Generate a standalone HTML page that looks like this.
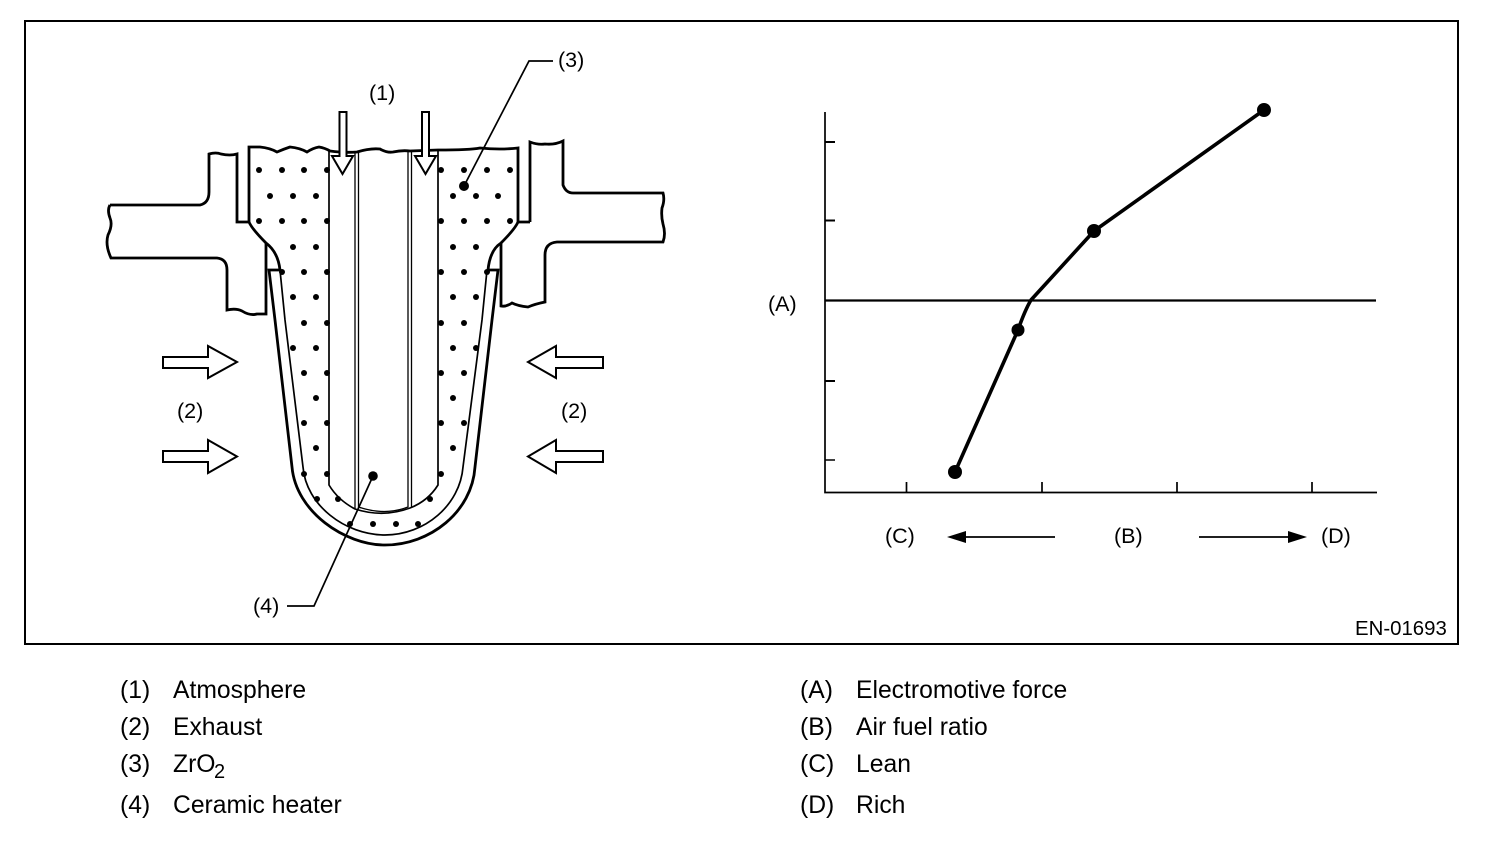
<!DOCTYPE html>
<html><head><meta charset="utf-8"><style>
html,body{margin:0;padding:0;background:#fff;width:1504px;height:842px;overflow:hidden}
svg{display:block}
text{font-family:"Liberation Sans",Arial,sans-serif;fill:#000}
.l{font-size:21.5px}.e{font-size:20.4px}.g{font-size:24.7px}
.t{fill:none;stroke:#000;stroke-width:2.8}
.n{fill:none;stroke:#000;stroke-width:1.7}
.d{fill:none;stroke:#000;stroke-width:1.3}
.a{fill:#fff;stroke:#000;stroke-width:2}
</style></head><body>
<svg width="1504" height="842" viewBox="0 0 1504 842" xmlns="http://www.w3.org/2000/svg">
<rect x="25" y="21" width="1433" height="623" fill="none" stroke="#000" stroke-width="2"/>

<!-- dots -->
<g fill="#000">
<circle cx="259" cy="170" r="3"/><circle cx="282" cy="170" r="3"/><circle cx="304" cy="170" r="3"/><circle cx="327" cy="170" r="3"/>
<circle cx="441" cy="170" r="3"/><circle cx="464" cy="170" r="3"/><circle cx="487" cy="170" r="3"/><circle cx="510" cy="170" r="3"/>
<circle cx="270" cy="196" r="3"/><circle cx="293" cy="196" r="3"/><circle cx="316" cy="196" r="3"/>
<circle cx="453" cy="196" r="3"/><circle cx="476" cy="196" r="3"/><circle cx="498" cy="196" r="3"/>
<circle cx="259" cy="221" r="3"/><circle cx="282" cy="221" r="3"/><circle cx="304" cy="221" r="3"/><circle cx="327" cy="221" r="3"/>
<circle cx="441" cy="221" r="3"/><circle cx="464" cy="221" r="3"/><circle cx="487" cy="221" r="3"/><circle cx="510" cy="221" r="3"/>
<circle cx="293" cy="247" r="3"/><circle cx="316" cy="247" r="3"/><circle cx="453" cy="247" r="3"/><circle cx="476" cy="247" r="3"/>
<circle cx="282" cy="272" r="3"/><circle cx="304" cy="272" r="3"/><circle cx="327" cy="272" r="3"/>
<circle cx="441" cy="272" r="3"/><circle cx="464" cy="272" r="3"/><circle cx="487" cy="272" r="3"/>
<circle cx="293" cy="297" r="3"/><circle cx="316" cy="297" r="3"/><circle cx="453" cy="297" r="3"/><circle cx="476" cy="297" r="3"/>
<circle cx="304" cy="323" r="3"/><circle cx="327" cy="323" r="3"/><circle cx="441" cy="323" r="3"/><circle cx="464" cy="323" r="3"/>
<circle cx="293" cy="348" r="3"/><circle cx="316" cy="348" r="3"/><circle cx="453" cy="348" r="3"/><circle cx="476" cy="348" r="3"/>
<circle cx="304" cy="373" r="3"/><circle cx="327" cy="373" r="3"/><circle cx="441" cy="373" r="3"/><circle cx="464" cy="373" r="3"/>
<circle cx="316" cy="398" r="3"/><circle cx="453" cy="398" r="3"/>
<circle cx="304" cy="423" r="3"/><circle cx="327" cy="423" r="3"/><circle cx="441" cy="423" r="3"/><circle cx="464" cy="423" r="3"/>
<circle cx="316" cy="448" r="3"/><circle cx="453" cy="448" r="3"/>
<circle cx="304" cy="474" r="3"/><circle cx="327" cy="474" r="3"/><circle cx="441" cy="474" r="3"/>
<circle cx="317" cy="499" r="3"/><circle cx="338" cy="499" r="3"/><circle cx="430" cy="499" r="3"/>
<circle cx="350" cy="524" r="3"/><circle cx="373" cy="524" r="3"/><circle cx="396" cy="524" r="3"/><circle cx="418" cy="524" r="3"/>
</g>

<!-- housing -->
<path class="t" d="M249,222 L249,147 L260,147 Q270,148 277,152 Q284,149 290,147 Q300,148 307,152 Q313,148 319,147 Q325,148 330,151 Q345,153 357,152 Q370,148 380,149 Q387,153 393,152 Q402,150 410,151 L438,150 Q470,150 480,148 Q500,150 518,148 L518,222"/>
<path class="t" d="M110,205 L200,205 Q209,203 209,192 L209,154 Q216,152 221,154 Q230,156 237,154 L237,222 L249,222 Q252,229 266,243 Q278,252 280,270"/>
<path class="t" d="M110,205 Q107,210 110,218 Q113,225 108,235 Q105,245 111,258 L217,258 Q227,259 227,270 L227,310 Q236,308 242,311 Q250,316 257,314 L266,314 L266,243"/>
<path class="t" d="M530,222 L530,142 Q538,145 545,144 Q555,145 563,141 L563,185 Q566,193 573,193 L663,193 Q665,200 662,208 Q661,216 663,224 Q666,234 663,242 L557,242 Q545,243 545,255 L545,302 Q535,304 528,307 Q518,306 512,303 Q506,307 501,306 L501,243"/>
<path class="t" d="M518,222 L530,222 M518,222 Q515,229 501,243 Q490,250 488,270"/>

<!-- ceramic sleeve -->
<path class="n" d="M280,270 L285,320 L303,467 C306,505 345,535 385,535 C425,535 460,505 463,467 L482,320 L487,270"/>
<path class="t" d="M280,270 L269,270 L275,320 L292,467 C296,512 345,545 385,545 C430,545 472,512 475,467 L492,320 L498,270 L487,270"/>

<!-- tube -->
<path class="n" d="M329,151 L329,485 Q338,500 355,509 Q383,518 410,508 Q428,501 438,485 L438,151"/>
<path class="d" d="M355,152 L355,509 M358.500,152 L358.500,507 Q385,516 408,507 L408,151 M411.500,151 L411.500,508"/>

<!-- down arrows -->
<path class="a" d="M339.500,112 L346.500,112 L346.500,156 L353,156 L342.500,174 L332,156 L339.500,156Z"/>
<path class="a" d="M422,112 L429,112 L429,156 L436,156 L425.500,174 L415,156 L422,156Z"/>

<!-- exhaust arrows -->
<path class="a" d="M163,357 L208,357 L208,346 L237,362 L208,378 L208,368 L163,368Z"/>
<path class="a" d="M163,451 L208,451 L208,440 L237,456.500 L208,473 L208,462 L163,462Z"/>
<path class="a" d="M603,357 L556,357 L556,346 L528,362 L556,378 L556,368 L603,368Z"/>
<path class="a" d="M603,451 L556,451 L556,440 L528,456.500 L556,473 L556,462 L603,462Z"/>

<!-- leaders -->
<path class="n" d="M553,61 L529,61 L464,186"/>
<circle cx="464" cy="186" r="5"/>
<path class="n" d="M287,606 L314,606 L373,476"/>
<circle cx="373" cy="476" r="4.800"/>

<!-- chart -->
<path d="M825,112 L825,492.500 L1377,492.500" fill="none" stroke="#000" stroke-width="1.700"/>
<path d="M825,300.500 L1376,300.500" fill="none" stroke="#000" stroke-width="2.200"/>
<path d="M825,142 H835 M825,220.500 H835 M825,381 H835" fill="none" stroke="#000" stroke-width="2"/>
<path d="M825,460 H835" fill="none" stroke="#000" stroke-width="1.500"/>
<path d="M906.500,482 V492 M1042,482 V492 M1177,482 V492 M1312,482 V492" fill="none" stroke="#000" stroke-width="1.700"/>
<path d="M955,472 L1018,330 Q1025,310 1031,300 L1094,231 L1264,110" fill="none" stroke="#000" stroke-width="3.600"/>
<circle cx="955" cy="472" r="7"/><circle cx="1018" cy="330" r="6.500"/><circle cx="1094" cy="231" r="7"/><circle cx="1264" cy="110" r="7"/>
<path d="M966,537 H1055 M1199,537 H1292" fill="none" stroke="#000" stroke-width="1.800"/>
<path d="M947,537 L966,531 L966,543Z"/>
<path d="M1307,537 L1288,531 L1288,543Z"/>

<!-- labels -->
<text class="l" x="369" y="100">(1)</text>
<text class="l" x="558" y="67">(3)</text>
<text class="l" x="177" y="418">(2)</text>
<text class="l" x="561" y="418">(2)</text>
<text class="l" x="253" y="613">(4)</text>
<text class="l" x="768" y="311">(A)</text>
<text class="l" x="885" y="543">(C)</text>
<text class="l" x="1114" y="543">(B)</text>
<text class="l" x="1321" y="543">(D)</text>
<text class="e" x="1355" y="635">EN-01693</text>

<!-- legend -->
<text class="g" x="120" y="698">(1)</text><text class="g" x="173" y="698">Atmosphere</text>
<text class="g" x="120" y="735">(2)</text><text class="g" x="173" y="735">Exhaust</text>
<text class="g" x="120" y="772">(3)</text><text class="g" x="173" y="772">ZrO</text><text x="214" y="778" font-size="20">2</text>
<text class="g" x="120" y="813">(4)</text><text class="g" x="173" y="813">Ceramic heater</text>
<text class="g" x="800" y="698">(A)</text><text class="g" x="856" y="698">Electromotive force</text>
<text class="g" x="800" y="735">(B)</text><text class="g" x="856" y="735">Air fuel ratio</text>
<text class="g" x="800" y="772">(C)</text><text class="g" x="856" y="772">Lean</text>
<text class="g" x="800" y="813">(D)</text><text class="g" x="856" y="813">Rich</text>
</svg>
</body></html>
